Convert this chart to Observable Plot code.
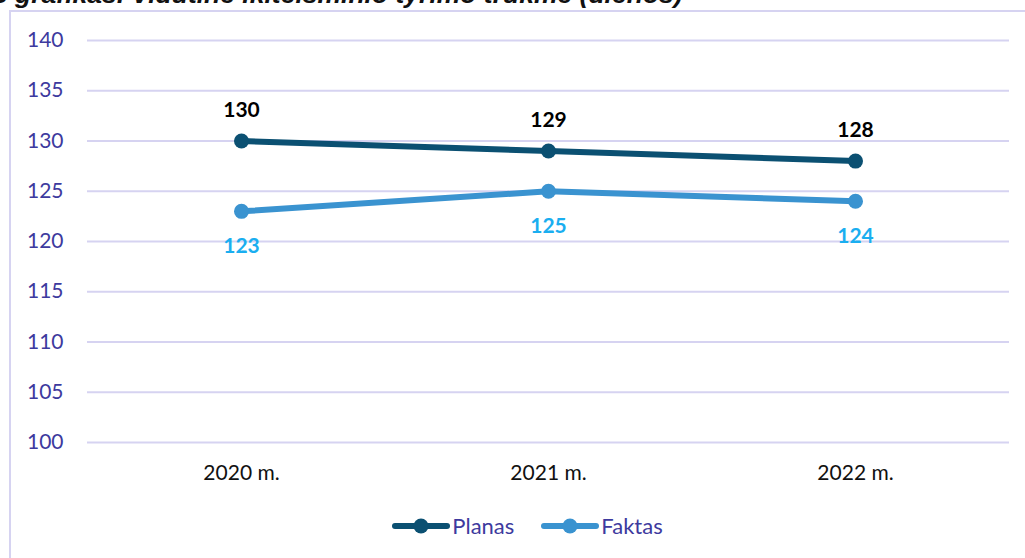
<!DOCTYPE html>
<html>
<head>
<meta charset="utf-8">
<script src="https://cdn.jsdelivr.net/npm/d3@7"></script>
<script src="https://cdn.jsdelivr.net/npm/@observablehq/plot@0.6"></script>
<style>
  html, body { margin: 0; padding: 0; background: #fff; }
  #wrap { position: relative; width: 1025px; height: 558px; overflow: hidden; background: #fff; font-family: Lato, "Open Sans", sans-serif; }
  #title { position: absolute; left: -7px; top: -19px; line-height: 1; font-family: "Liberation Sans", Arial, sans-serif; font-weight: bold; font-style: italic; font-size: 26.5px; color: #111; white-space: nowrap; }
  #frame { position: absolute; left: 9px; top: 10px; width: 1100px; height: 600px; border-left: 2px solid #d6d3f1; border-top: 2px solid #d6d3f1; box-sizing: border-box; }
  #chart { position: absolute; left: 0; top: 0; }
  #legend { position: absolute; left: 30px; width: 995px; top: 514px; height: 24px; display: flex; justify-content: center; align-items: center; gap: 27px; font-family: Lato, sans-serif; font-size: 22px; line-height: 24px; color: #3d3a9e; }
  .item { display: flex; align-items: center; gap: 2px; }
  .item svg { display: block; }
</style>
</head>
<body>
<div id="wrap">
  <div id="title">3 grafikas. Vidutinė ikiteisminio tyrimo trukmė (dienos)</div>
  <div id="frame"></div>
  <div id="chart"></div>
  <div id="legend"></div>
</div>
<script>
const years = ["2020 m.", "2021 m.", "2022 m."];
const planas = [130, 129, 128];
const faktas = [123, 125, 124];
const yTicks = [100, 105, 110, 115, 120, 125, 130, 135, 140];
const seriesNames = ["Planas", "Faktas"];
const seriesColors = ["#0b5072", "#3a93d0"];
const labelColors = ["#000000", "#1aaef0"];

const rows = [];
years.forEach((y, i) => {
  rows.push({year: y, value: planas[i], series: "Planas"});
  rows.push({year: y, value: faktas[i], series: "Faktas"});
});
const P = rows.filter(d => d.series === "Planas");
const F = rows.filter(d => d.series === "Faktas");

const chart = Plot.plot({
  width: 1025,
  height: 500,
  marginLeft: 87,
  marginRight: 16,
  marginTop: 40,
  marginBottom: 58,
  style: {fontFamily: "Lato, sans-serif", fontSize: "21px", background: "transparent", overflow: "visible"},
  x: {type: "point", domain: years, padding: 0.5, label: null},
  y: {domain: [100, 140], ticks: yTicks, label: null},
  marks: [
    Plot.gridY(yTicks, {stroke: "#d6d3f1", strokeOpacity: 1, strokeWidth: 2}),
    Plot.axisY(yTicks, {tickSize: 0, tickPadding: 24, fill: "#3d3a9e", fontSize: 21, label: null}),
    Plot.axisX({tickSize: 0, tickPadding: 23, fill: "#111", fontSize: 21, label: null}),
    Plot.line(F, {x: "year", y: "value", stroke: seriesColors[1], strokeWidth: 6}),
    Plot.dot(F, {x: "year", y: "value", fill: seriesColors[1], r: 7.5}),
    Plot.line(P, {x: "year", y: "value", stroke: seriesColors[0], strokeWidth: 6}),
    Plot.dot(P, {x: "year", y: "value", fill: seriesColors[0], r: 7.5}),
    Plot.text(P, {x: "year", y: "value", text: d => String(d.value), dy: -31, fill: labelColors[0], fontWeight: "bold", fontSize: 21}),
    Plot.text(F, {x: "year", y: "value", text: d => String(d.value), dy: 35, fill: labelColors[1], fontWeight: "bold", fontSize: 21})
  ]
});
document.getElementById("chart").appendChild(chart);

const legend = document.getElementById("legend");
seriesNames.forEach((name, i) => {
  const item = document.createElement("div");
  item.className = "item";
  item.innerHTML = `<svg width="58" height="20"><line x1="3" y1="10" x2="55" y2="10" stroke="${seriesColors[i]}" stroke-width="6" stroke-linecap="round"/><circle cx="29" cy="10" r="7.5" fill="${seriesColors[i]}"/></svg><span>${name}</span>`;
  legend.appendChild(item);
});
</script>
</body>
</html>
